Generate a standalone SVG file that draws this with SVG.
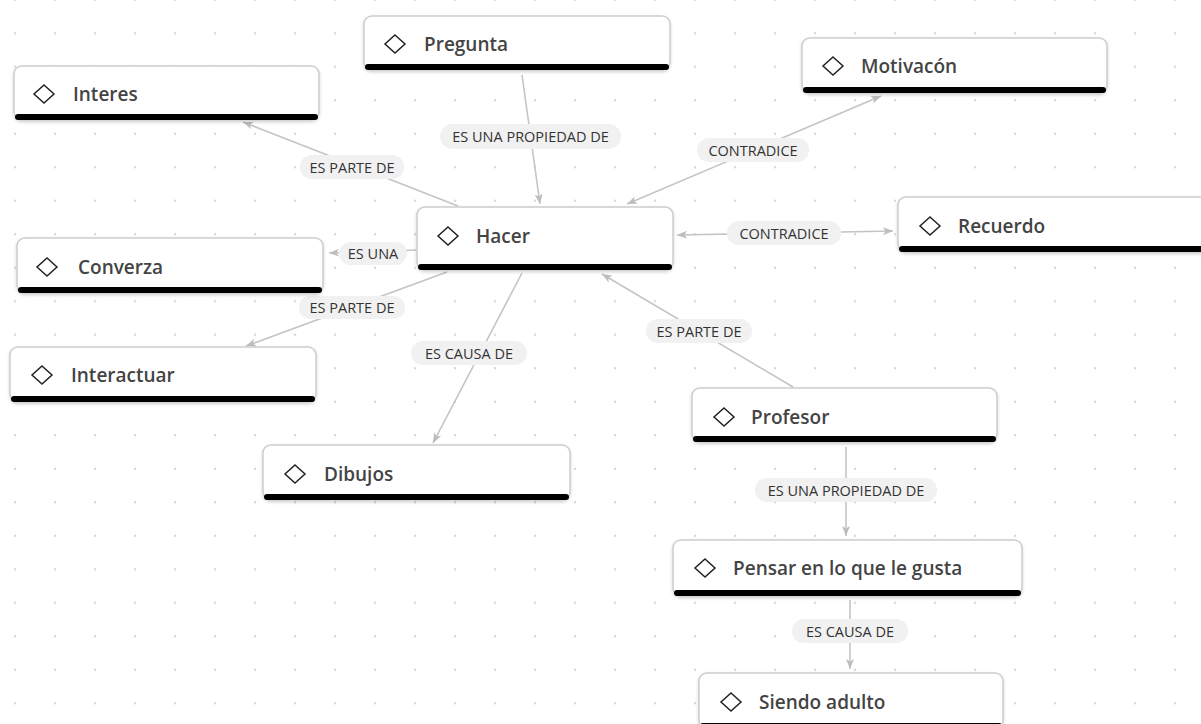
<svg xmlns="http://www.w3.org/2000/svg" width="1201" height="724" viewBox="0 0 1201 724">
<defs>
<pattern id="dots" patternUnits="userSpaceOnUse" x="-5" y="-17" width="40" height="33.5">
<circle cx="20" cy="16.75" r="1.2" fill="#d6d6d6"/>
</pattern>
<marker id="arr" markerUnits="userSpaceOnUse" viewBox="0 0 10 10" refX="10" refY="5" markerWidth="10" markerHeight="10" orient="auto-start-reverse">
<path d="M0,1 L10,5 L0,9 L2.5,5 z" fill="#bdbdbd"/>
</marker>
<filter id="sh" x="-5%" y="-20%" width="110%" height="150%">
<feDropShadow dx="0" dy="1.5" stdDeviation="1.5" flood-color="#000" flood-opacity="0.18"/>
</filter>
<style>
.box{fill:#fff;stroke:#cdcdcd;stroke-width:1.5;filter:url(#sh)}
.bar{fill:#000}
.ico{fill:none;stroke:#222;stroke-width:1.5}
.nt{font-family:"Open Sans","Noto Sans",sans-serif;font-weight:600;font-size:19px;fill:#444}
.edge{stroke:#c4c4c4;stroke-width:1.6;fill:none}
.pill{fill:#f1f1f1}
.lt{font-family:"Open Sans","Noto Sans",sans-serif;font-size:14.5px;fill:#333;text-anchor:middle}
</style>
</defs>
<rect width="1201" height="724" fill="#fff"/>
<rect width="1201" height="724" fill="url(#dots)"/>

<g id="connectors">
<line class="edge" x1="522" y1="75" x2="540" y2="204" marker-end="url(#arr)"/>
<line class="edge" x1="458" y1="206" x2="243" y2="122" marker-end="url(#arr)"/>
<line class="edge" x1="627" y1="204" x2="881" y2="96" marker-start="url(#arr)" marker-end="url(#arr)"/>
<line class="edge" x1="677" y1="235" x2="893" y2="231" marker-start="url(#arr)" marker-end="url(#arr)"/>
<line class="edge" x1="417" y1="250" x2="329" y2="253" marker-end="url(#arr)"/>
<line class="edge" x1="447" y1="272" x2="246" y2="346" marker-end="url(#arr)"/>
<line class="edge" x1="522" y1="273" x2="433" y2="443" marker-end="url(#arr)"/>
<line class="edge" x1="793" y1="387" x2="602" y2="274" marker-end="url(#arr)"/>
<line class="edge" x1="846" y1="447" x2="846" y2="536" marker-end="url(#arr)"/>
<line class="edge" x1="850" y1="600" x2="850" y2="669" marker-end="url(#arr)"/>

<rect class="pill" x="440" y="124" width="181" height="25" rx="12.5"/>
<text class="lt" x="530.5" y="142">ES UNA PROPIEDAD DE</text>
<rect class="pill" x="300" y="155" width="104" height="24" rx="12"/>
<text class="lt" x="352" y="172.5">ES PARTE DE</text>
<rect class="pill" x="697" y="138" width="112" height="24" rx="12"/>
<text class="lt" x="753" y="155.5">CONTRADICE</text>
<rect class="pill" x="727" y="221" width="114" height="24" rx="12"/>
<text class="lt" x="784" y="238.5">CONTRADICE</text>
<rect class="pill" x="339" y="242" width="68" height="23" rx="11.5"/>
<text class="lt" x="373" y="259">ES UNA</text>
<rect class="pill" x="299" y="296" width="106" height="23" rx="11.5"/>
<text class="lt" x="352" y="313">ES PARTE DE</text>
<rect class="pill" x="411" y="341" width="116" height="24" rx="12"/>
<text class="lt" x="469" y="358.5">ES CAUSA DE</text>
<rect class="pill" x="646" y="319" width="106" height="24" rx="12"/>
<text class="lt" x="699" y="336.5">ES PARTE DE</text>
<rect class="pill" x="755" y="478" width="182" height="24" rx="12"/>
<text class="lt" x="846" y="495.5">ES UNA PROPIEDAD DE</text>
<rect class="pill" x="792" y="619" width="116" height="24" rx="12"/>
<text class="lt" x="850" y="636.5">ES CAUSA DE</text>
</g>

<g id="n-interes">
<rect class="box" x="14" y="66" width="305" height="54" rx="8"/>
<rect class="bar" x="15" y="114" width="303" height="6" rx="3"/>
<path class="ico" d="M44,85 L54,94 L44,103 L34,94 Z"/>
<text class="nt" x="73" y="100.5">Interes</text>
</g>
<g id="n-pregunta">
<rect class="box" x="364" y="16" width="306" height="54" rx="8"/>
<rect class="bar" x="365" y="64" width="304" height="6" rx="3"/>
<path class="ico" d="M395,35 L405,44 L395,53 L385,44 Z"/>
<text class="nt" x="424" y="50.5">Pregunta</text>
</g>
<g id="n-motivacon">
<rect class="box" x="802" y="38" width="305" height="55" rx="8"/>
<rect class="bar" x="803" y="87" width="303" height="6" rx="3"/>
<path class="ico" d="M833,57 L843,66 L833,75 L823,66 Z"/>
<text class="nt" x="861" y="72.5">Motivacón</text>
</g>
<g id="n-hacer">
<rect class="box" x="417" y="207" width="256" height="63" rx="8"/>
<rect class="bar" x="418" y="264" width="254" height="6" rx="3"/>
<path class="ico" d="M448,227 L458,236 L448,245 L438,236 Z"/>
<text class="nt" x="476" y="242.5">Hacer</text>
</g>
<g id="n-recuerdo">
<rect class="box" x="898" y="197" width="312" height="55" rx="8"/>
<rect class="bar" x="899" y="246" width="310" height="6" rx="3"/>
<path class="ico" d="M930,217 L940,226 L930,235 L920,226 Z"/>
<text class="nt" x="958" y="232.5">Recuerdo</text>
</g>
<g id="n-converza">
<rect class="box" x="17" y="238" width="306" height="55" rx="8"/>
<rect class="bar" x="18" y="287" width="304" height="6" rx="3"/>
<path class="ico" d="M47,258 L57,267 L47,276 L37,267 Z"/>
<text class="nt" x="78" y="273.5">Converza</text>
</g>
<g id="n-interactuar">
<rect class="box" x="10" y="347" width="306" height="55" rx="8"/>
<rect class="bar" x="11" y="396" width="304" height="6" rx="3"/>
<path class="ico" d="M42,366 L52,375 L42,384 L32,375 Z"/>
<text class="nt" x="71" y="381.5">Interactuar</text>
</g>
<g id="n-dibujos">
<rect class="box" x="263" y="445" width="307" height="55" rx="8"/>
<rect class="bar" x="264" y="494" width="305" height="6" rx="3"/>
<path class="ico" d="M295,465 L305,474 L295,483 L285,474 Z"/>
<text class="nt" x="324" y="480.5">Dibujos</text>
</g>
<g id="n-profesor">
<rect class="box" x="692" y="388" width="305" height="54" rx="8"/>
<rect class="bar" x="693" y="436" width="303" height="6" rx="3"/>
<path class="ico" d="M724,408 L734,417 L724,426 L714,417 Z"/>
<text class="nt" x="751" y="423.5">Profesor</text>
</g>
<g id="n-pensar">
<rect class="box" x="673" y="540" width="349" height="56" rx="8"/>
<rect class="bar" x="674" y="590" width="347" height="6" rx="3"/>
<path class="ico" d="M705,559 L715,568 L705,577 L695,568 Z"/>
<text class="nt" x="733" y="574.5">Pensar en lo que le gusta</text>
</g>
<g id="n-siendo">
<rect class="box" x="699" y="673" width="304" height="56" rx="8"/>
<rect class="bar" x="700" y="723" width="302" height="6" rx="3"/>
<path class="ico" d="M731,693 L741,702 L731,711 L721,702 Z"/>
<text class="nt" x="759" y="708.5">Siendo adulto</text>
</g>
</svg>
